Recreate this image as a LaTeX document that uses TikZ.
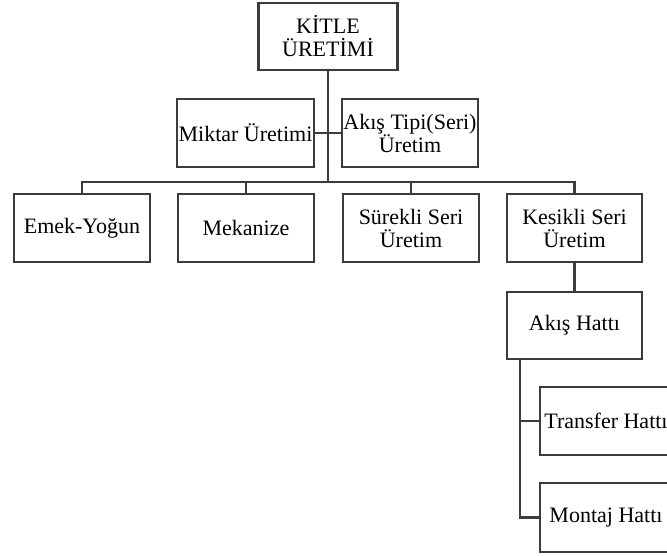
\documentclass[tikz,border=0pt]{standalone}
\usepackage{fontspec}
\setmainfont{Liberation Serif}
\definecolor{linec}{RGB}{58,60,64}
\begin{document}
\begin{tikzpicture}[x=1pt,y=-1pt,
  box/.style={draw=linec, line width=2.4pt, fill=white, inner sep=0pt,
    minimum width=136pt, minimum height=68pt, align=center,
    font=\fontsize{22}{23}\selectfont},
  link/.style={draw=linec, line width=2.4pt}]
\useasboundingbox (0,0) rectangle (667,555);
\clip (0,0) rectangle (667,555);

% top level
\node[box, minimum width=139pt, minimum height=67pt] (kitle) at (328,36.5) {KİTLE\\ÜRETİMİ};

% second level pair
\node[box, minimum width=137pt] (miktar) at (245.5,133) {Miktar Üretimi};
\node[box] (akistipi) at (410,133) {Akış Tipi(Seri)\\Üretim};

% third level
\node[box] (emek) at (82,228) {Emek-Yoğun};
\node[box] (mekanize) at (246,228) {Mekanize};
\node[box] (surekli) at (411,228) {Sürekli Seri\\Üretim};
\node[box, minimum width=135pt] (kesikli) at (574.5,228) {Kesikli Seri\\Üretim};

% flow line branch
\node[box, minimum width=135pt, minimum height=67pt] (akishatti) at (574.5,325.5) {Akış Hattı};
\node[box, minimum width=132pt] (transfer) at (606,421) {Transfer Hattı};
\node[box, minimum width=132pt, minimum height=69pt] (montaj) at (606,517.5) {Montaj Hattı};

% connectors
\coordinate (hub) at (328,182);
\coordinate (trunk) at ([xshift=14pt]akishatti.south west);

\draw[link] (kitle.south) -- (hub);
\draw[link] (miktar.east) -- (akistipi.west);
\draw[link] (emek.north) |- (hub) -| (kesikli.north);
\draw[link] (mekanize.north) -- (mekanize.north |- hub);
\draw[link] (surekli.north) -- (surekli.north |- hub);
\draw[link] (kesikli.south) -- (akishatti.north);
\draw[link] (trunk) |- (montaj.west);
\draw[link] (transfer.west) -- (transfer.west -| trunk);
\end{tikzpicture}
\end{document}
